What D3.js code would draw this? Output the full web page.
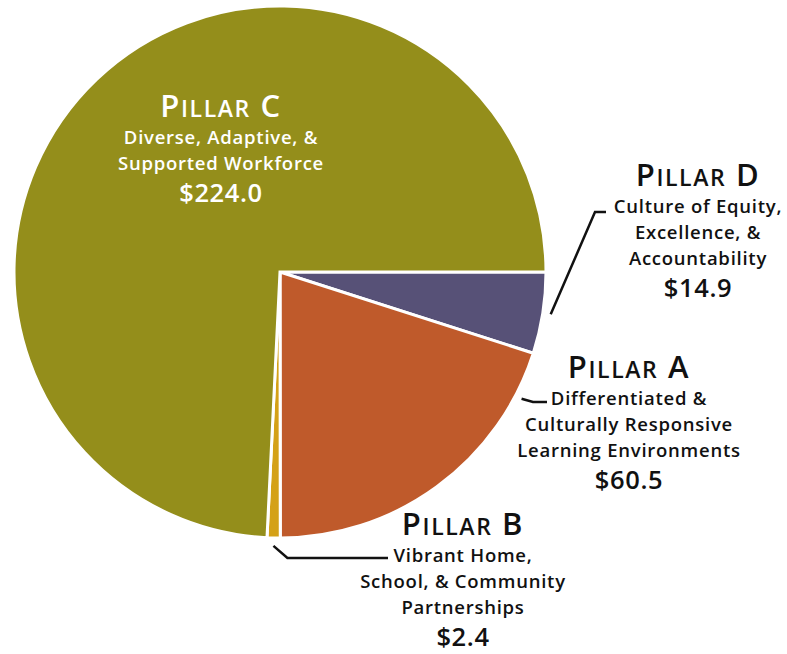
<!DOCTYPE html>
<html>
<head>
<meta charset="utf-8">
<script src="https://cdnjs.cloudflare.com/ajax/libs/d3/7.8.5/d3.min.js"></script>
<style>
    body { margin: 0; background: #fff; }
    text { font-family: "Open Sans", Lato, sans-serif; }
</style>
</head>
<body>
<div id="chart"></div>
<script>
(function () {
    // slice order, clockwise from 3 o'clock
    var pillars = ["D", "A", "B", "C"];
    var amounts = [14.9, 60.5, 2.4, 224.0];
    var descriptions = [
        ["Culture of Equity,", "Excellence, &", "Accountability"],
        ["Differentiated &", "Culturally Responsive", "Learning Environments"],
        ["Vibrant Home,", "School, & Community", "Partnerships"],
        ["Diverse, Adaptive, &", "Supported Workforce"]
    ];
    var colors = ["#575177", "#bf5a2b", "#d4a117", "#948e1b"];

    var width = 787,
        height = 654,
        cx = 280,
        cy = 272,
        radius = 266;

    // where each label block sits (centre x, title baseline)
    var labelPos = {
        D: [698, 186],
        A: [629, 378],
        B: [463, 535],
        C: [221, 117]
    };

    var svg = d3.select("#chart").append("svg")
        .attr("width", width)
        .attr("height", height);

    var data = pillars.map(function (p, i) {
        return {pillar: p, amount: amounts[i], lines: descriptions[i], color: colors[i]};
    });

    var pie = d3.pie()
        .sort(null)
        .value(function (d) { return d.amount; })
        .startAngle(Math.PI / 2)
        .endAngle(Math.PI / 2 + 2 * Math.PI);

    var arc = d3.arc().innerRadius(0).outerRadius(radius);
    var arcs = pie(data);

    var g = svg.append("g")
        .attr("transform", "translate(" + cx + "," + cy + ")");

    g.selectAll("path")
        .data(arcs)
        .enter().append("path")
        .attr("d", arc)
        .style("fill", function (d) { return d.data.color; })
        .style("stroke", "#fff")
        .style("stroke-width", 3)
        .style("stroke-linejoin", "miter");

    // leader lines from the slice edge to the label
    function polar(a, r) {
        return [cx + r * Math.sin(a), cy - r * Math.cos(a)];
    }
    var leaders = {
        D: function (d) {
            var p = polar((d.startAngle + d.endAngle) / 2, radius + 8);
            return [p, [595, 212], [606, 212]];
        },
        A: function (d) {
            var p = polar(d.startAngle + 0.16, radius - 4);
            return [[p[0] + 8, p[1] + 8], [533, 402], [547, 402]];
        },
        B: function (d) {
            var p = polar((d.startAngle + d.endAngle) / 2, radius + 8);
            return [p, [p[0] + 14, 558], [388, 558]];
        }
    };

    svg.selectAll("polyline.leader")
        .data(arcs.filter(function (d) { return leaders[d.data.pillar]; }))
        .enter().append("polyline")
        .attr("class", "leader")
        .attr("points", function (d) {
            return leaders[d.data.pillar](d).map(function (p) { return p.join(","); }).join(" ");
        })
        .style("fill", "none")
        .style("stroke", "#111")
        .style("stroke-width", 2.5);

    var labels = svg.selectAll("g.label")
        .data(data)
        .enter().append("g")
        .attr("class", "label")
        .attr("transform", function (d) {
            var p = labelPos[d.pillar];
            return "translate(" + p[0] + "," + p[1] + ")";
        })
        .style("fill", function (d) { return d.pillar === "C" ? "#fff" : "#111"; })
        .attr("text-anchor", "middle");

    var title = labels.append("text")
        .style("font-weight", 600)
        .style("letter-spacing", "1.6px");
    title.append("tspan").style("font-size", "31px").text("P");
    title.append("tspan").style("font-size", "23px").text("ILLAR");
    title.append("tspan").style("font-size", "31px")
        .text(function (d) { return "\u00a0" + d.pillar; });

    labels.each(function (d) {
        var el = d3.select(this);
        d.lines.forEach(function (line, i) {
            el.append("text")
                .attr("y", 27 + i * 26)
                .style("font-size", "18.5px")
                .style("font-weight", 600)
                .style("letter-spacing", "0.75px")
                .text(line);
        });
        el.append("text")
            .attr("y", 27 + (d.lines.length - 1) * 26 + 32)
            .style("font-size", "25.5px")
            .style("font-weight", 600)
            .style("letter-spacing", "0.6px")
            .text("$" + d3.format(".1f")(d.amount));
    });
}());
</script>
</body>
</html>
